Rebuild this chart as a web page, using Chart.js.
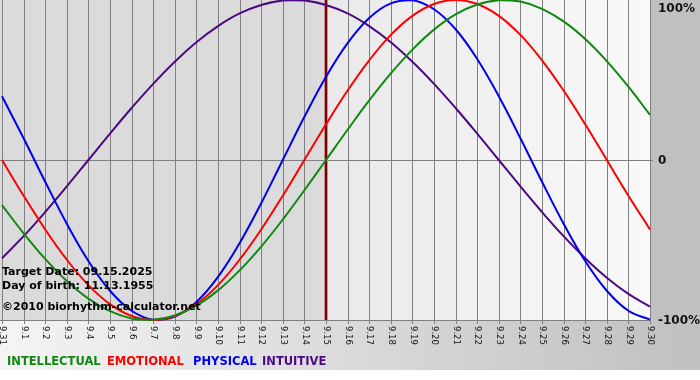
<!DOCTYPE html>
<html><head><meta charset="utf-8">
<script src="https://cdn.jsdelivr.net/npm/chart.js@4"></script>
<style>html,body{margin:0;padding:0;background:#fff;overflow:hidden}canvas{display:block}</style>
</head><body>
<canvas id="c" width="700" height="380"></canvas>
<script>
const dayLabels = ['9.31','9.1','9.2','9.3','9.4','9.5','9.6','9.7','9.8','9.9','9.10','9.11','9.12','9.13','9.14','9.15','9.16','9.17','9.18','9.19','9.20','9.21','9.22','9.23','9.24','9.25','9.26','9.27','9.28','9.29','9.30'];
const intellectual = [-28.2,-45.8,-61.8,-75.6,-86.6,-94.5,-99.0,-99.9,-97.2,-91.0,-81.5,-69.0,-54.1,-37.2,-18.9,0,18.9,37.2,54.1,69.0,81.5,91.0,97.2,99.9,99.0,94.5,86.6,75.6,61.8,45.8,28.2];
const emotional = [0,-22.3,-43.4,-62.3,-78.2,-90.1,-97.5,-100,-97.5,-90.1,-78.2,-62.3,-43.4,-22.3,0,22.3,43.4,62.3,78.2,90.1,97.5,100,97.5,90.1,78.2,62.3,43.4,22.3,0,-22.3,-43.4];
const physical = [39.8,13.6,-13.6,-39.8,-63.1,-81.7,-94.2,-99.8,-97.9,-88.8,-73.1,-52.0,-27.0,0,27.0,52.0,73.1,88.8,97.9,99.8,94.2,81.7,63.1,39.8,13.6,-13.6,-39.8,-63.1,-81.7,-94.2,-99.8];
const intuitive = [-61.4,-47.6,-32.5,-16.5,0,16.5,32.5,47.6,61.4,73.6,83.7,91.6,96.9,99.7,99.7,96.9,91.6,83.7,73.6,61.4,47.6,32.5,16.5,0,-16.5,-32.5,-47.6,-61.4,-73.6,-83.7,-91.6];
const seriesNames = ['INTELLECTUAL','EMOTIONAL','PHYSICAL','INTUITIVE'];
const seriesColors = ['#118811','#ff0000','#0000ee','#4b0a82'];
const yTickValues = [100, 0, -100];
const yTickLabels = ['100%', '0', '-100%'];
const targetLabel = '9.15';
const infoLines = ['Target Date: 09.15.2025', 'Day of birth: 11.13.1955', '\u00A92010 biorhythm-calculator.net'];

const seriesData = [intellectual, emotional, physical, intuitive];

const biorhythmPlugin = {
  id: 'biorhythm',
  beforeDraw(chart) {
    const ctx = chart.ctx, a = chart.chartArea;
    const xs = chart.scales.x, ys = chart.scales.y;
    const W = chart.width, H = chart.height;
    ctx.save();
    ctx.fillStyle = '#ffffff';
    ctx.fillRect(0, 0, W, H);
    const gb = ctx.createLinearGradient(0, 0, W, 0);
    gb.addColorStop(0, '#f4f4f4');
    gb.addColorStop(1, '#c0c0c0');
    ctx.fillStyle = gb;
    ctx.fillRect(0, a.bottom, W, 370 - a.bottom);
    ctx.fillStyle = '#c0c0c0';
    ctx.fillRect(a.right, 0, W - a.right, a.bottom);
    const tx = xs.getPixelForValue(dayLabels.indexOf(targetLabel));
    ctx.fillStyle = '#dbdbdb';
    ctx.fillRect(0, 0, tx, a.bottom);
    const gr = ctx.createLinearGradient(tx, 0, a.right, 0);
    gr.addColorStop(0, '#e9e9e9');
    gr.addColorStop(1, '#f9f9f9');
    ctx.fillStyle = gr;
    ctx.fillRect(tx, 0, a.right - tx, a.bottom);
    ctx.strokeStyle = '#808080';
    ctx.lineWidth = 1;
    ctx.beginPath();
    for (let i = 0; i < dayLabels.length; i++) {
      const x = Math.round(xs.getPixelForValue(i)) + 0.5;
      ctx.moveTo(x, 0);
      ctx.lineTo(x, a.bottom + 4);
    }
    const y0 = Math.round(ys.getPixelForValue(0)) + 0.5;
    ctx.moveTo(0, y0);
    ctx.lineTo(a.right + 3, y0);
    const yb = Math.round(a.bottom) + 0.5;
    ctx.moveTo(0, yb);
    ctx.lineTo(a.right + 1, yb);
    ctx.stroke();
    ctx.restore();
  },
  beforeDatasetsDraw(chart) {
    const ctx = chart.ctx, a = chart.chartArea, xs = chart.scales.x;
    const tx = Math.round(xs.getPixelForValue(dayLabels.indexOf(targetLabel)));
    ctx.save();
    ctx.strokeStyle = '#c89090';
    ctx.lineWidth = 4;
    ctx.beginPath(); ctx.moveTo(tx, 0); ctx.lineTo(tx, a.bottom); ctx.stroke();
    ctx.strokeStyle = '#7a0000';
    ctx.lineWidth = 2;
    ctx.beginPath(); ctx.moveTo(tx, 0); ctx.lineTo(tx, a.bottom); ctx.stroke();
    ctx.restore();
  },
  afterDraw(chart) {
    const ctx = chart.ctx, a = chart.chartArea;
    const xs = chart.scales.x, ys = chart.scales.y;
    ctx.save();
    ctx.font = '8.5px "DejaVu Sans"';
    ctx.fillStyle = '#111';
    ctx.textAlign = 'left';
    ctx.textBaseline = 'middle';
    for (let i = 0; i < dayLabels.length; i++) {
      const x = xs.getPixelForValue(i);
      ctx.save();
      ctx.translate(x + 0.5, a.bottom + 6);
      ctx.rotate(Math.PI / 2);
      ctx.fillText(dayLabels[i], 0, 0);
      ctx.restore();
    }
    ctx.font = 'bold 12px "DejaVu Sans"';
    ctx.fillStyle = '#111';
    yTickValues.forEach((v, k) => {
      let y = ys.getPixelForValue(v);
      if (y < 8) y = 8;
      ctx.fillText(yTickLabels[k], a.right + 8, y + 1);
    });
    ctx.font = 'bold 11.5px "DejaVu Sans"';
    const legendX = [7, 107, 193, 262];
    seriesNames.forEach((n, k) => {
      ctx.fillStyle = seriesColors[k];
      ctx.fillText(n, legendX[k], 362);
    });
    ctx.font = 'bold 11px "DejaVu Sans"';
    ctx.fillStyle = '#000';
    const infoY = [272, 286, 307];
    infoLines.forEach((t, k) => ctx.fillText(t, 2, infoY[k]));
    ctx.restore();
  }
};

new Chart(document.getElementById('c'), {
  type: 'line',
  data: {
    labels: dayLabels,
    datasets: seriesData.map((d, k) => ({
      label: seriesNames[k],
      data: d,
      borderColor: seriesColors[k],
      backgroundColor: seriesColors[k],
      borderWidth: 2,
      pointRadius: 0,
      tension: 0.4,
      fill: false,
      clip: false
    }))
  },
  options: {
    responsive: false,
    animation: false,
    devicePixelRatio: 1,
    layout: { padding: { left: 2, top: 0, right: 50, bottom: 60 } },
    plugins: { legend: { display: false }, tooltip: { enabled: false } },
    scales: {
      x: { display: false },
      y: { display: false, min: -100, max: 100 }
    }
  },
  plugins: [biorhythmPlugin]
});
</script>
</body></html>
